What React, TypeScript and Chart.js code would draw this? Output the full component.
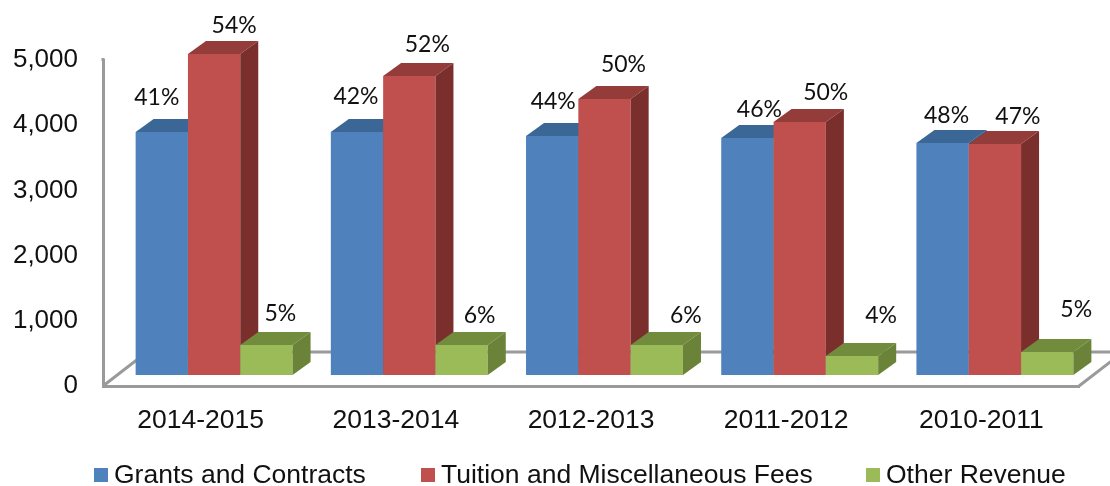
import React, { useEffect, useRef } from "react";
import { Chart, registerables } from "chart.js";

Chart.register(...registerables);

const categories = ["2014-2015", "2013-2014", "2012-2013", "2011-2012", "2010-2011"];
const grants = [3727, 3727, 3665, 3635, 3559];
const tuition = [4923, 4586, 4233, 3881, 3543];
const other = [460, 460, 460, 292, 353];
const grantsShare = ["41%", "42%", "44%", "46%", "48%"];
const tuitionShare = ["54%", "52%", "50%", "50%", "47%"];
const otherShare = ["5%", "6%", "6%", "4%", "5%"];

// label nudges relative to the top centre of each bar's front face
const grantsNudge = [[-5, -34], [-1, -35], [1, -34], [12, -28], [4, -27]];
const tuitionNudge = [[20, -28], [18, -31], [19, -34], [26, -29], [23, -27]];
const otherNudge = [[14, -31], [18, -29], [29, -29], [29, -40], [29, -42]];

const SANS = '"Liberation Sans", Arial, sans-serif';
const AXIS = "#9a9a9a";
const AXIS_TOP = 58;
const PLANE_DX = 13.5;
const PLANE_DY = -11;
const DEPTH_DX = 18;
const DEPTH_DY = -13;

const seriesStyle = [
  { front: "#4F81BD", top: "#3B6796", side: "#2F5380" },
  { front: "#C0504D", top: "#943C3A", side: "#7A2F2D" },
  { front: "#9BBB59", top: "#728C3E", side: "#6B8339" },
];
const shares = [grantsShare, tuitionShare, otherShare];
const nudges = [grantsNudge, tuitionNudge, otherNudge];
const legendStarts = [94, 421, 866];

const poly = (ctx: CanvasRenderingContext2D, pts: number[][], fill: string) => {
  ctx.beginPath();
  pts.forEach(([x, y], i) => (i ? ctx.lineTo(x, y) : ctx.moveTo(x, y)));
  ctx.closePath();
  ctx.fillStyle = fill;
  ctx.fill();
};

const solidBars = {
  id: "solidBars",
  beforeDatasetsDraw(chart: any) {
    const { ctx, chartArea: a, width } = chart;
    ctx.save();
    ctx.strokeStyle = AXIS;
    ctx.lineWidth = 3;
    const backY = 352;
    const floorDx = 44;
    ctx.beginPath();
    ctx.moveTo(a.left, a.bottom);
    ctx.lineTo(a.left + floorDx, backY);
    ctx.lineTo(width, backY);
    ctx.moveTo(a.right, a.bottom);
    ctx.lineTo(a.right + floorDx, backY);
    ctx.moveTo(a.left, a.top + 1);
    ctx.lineTo(a.left, AXIS_TOP);
    ctx.stroke();
    ctx.restore();
  },
  // the library paints datasets last-to-first; the solids need first-to-last
  beforeDatasetDraw() {
    return false;
  },
  afterDatasetsDraw(chart: any) {
    const { ctx } = chart;
    ctx.save();
    ctx.translate(PLANE_DX, PLANE_DY);
    chart.data.datasets.forEach((_: any, i: number) => {
      const style = seriesStyle[i];
      chart.getDatasetMeta(i).data.forEach((el: any) => {
        el.draw(ctx);
        const { x, y, width, base } = el.getProps(["x", "y", "width", "base"], true);
        const l = x - width / 2;
        const r = x + width / 2;
        poly(ctx, [[l, y], [r, y], [r + DEPTH_DX, y + DEPTH_DY], [l + DEPTH_DX, y + DEPTH_DY]], style.top);
        poly(ctx, [[r, y], [r + DEPTH_DX, y + DEPTH_DY], [r + DEPTH_DX, base + DEPTH_DY], [r, base]], style.side);
      });
    });
    ctx.restore();
  },
  afterDraw(chart: any) {
    const { ctx } = chart;
    ctx.save();
    ctx.textBaseline = "middle";
    ctx.textAlign = "center";
    ctx.fillStyle = "#111111";
    ctx.font = "23px Lato, sans-serif";
    chart.data.datasets.forEach((_: any, i: number) => {
      chart.getDatasetMeta(i).data.forEach((el: any, j: number) => {
        const [dx, dy] = nudges[i][j];
        ctx.fillText(shares[i][j], el.x + PLANE_DX + dx, el.y + PLANE_DY + dy);
      });
    });
    ctx.textAlign = "left";
    ctx.font = `26.5px ${SANS}`;
    chart.data.datasets.forEach((ds: any, i: number) => {
      const x = legendStarts[i];
      ctx.fillStyle = seriesStyle[i].front;
      ctx.fillRect(x, 468, 14, 14);
      ctx.fillStyle = "#111111";
      ctx.fillText(ds.label, x + 20, 476);
    });
    ctx.restore();
  },
};

export default function App() {
  const ref = useRef<HTMLCanvasElement | null>(null);
  useEffect(() => {
    const series = [
      { label: "Grants and Contracts", data: grants },
      { label: "Tuition and Miscellaneous Fees", data: tuition },
      { label: "Other Revenue", data: other },
    ];
    const chart = new Chart(ref.current as HTMLCanvasElement, {
      type: "bar",
      data: {
        labels: categories,
        datasets: series.map((s, i) => ({
          ...s,
          backgroundColor: seriesStyle[i].front,
          barPercentage: 1,
          categoryPercentage: 0.804,
        })),
      },
      options: {
        responsive: false,
        animation: false,
        layout: { padding: { top: 60, right: 31, left: 0, bottom: 0 } },
        plugins: { legend: { display: false }, tooltip: { enabled: false } },
        scales: {
          x: {
            grid: { display: false, drawTicks: false },
            border: { display: true, color: AXIS, width: 3 },
            ticks: { color: "#111111", font: { family: SANS, size: 26.5 }, padding: 19, maxRotation: 0 },
            afterFit: (s: any) => { s.height = 100; },
          },
          y: {
            min: 0,
            max: 5000,
            grid: { display: false, drawTicks: false },
            border: { display: true, color: AXIS, width: 3 },
            ticks: {
              stepSize: 1000,
              color: "#111111",
              font: { family: SANS, size: 26 },
              padding: 25,
              callback: (v: any) => Number(v).toLocaleString("en-US"),
            },
            afterFit: (s: any) => { s.width = 103; },
          },
        },
      },
      plugins: [solidBars],
    });
    return () => chart.destroy();
  }, []);
  return (
    <div style={{ position: "absolute", left: 0, top: 0, width: 1110, height: 486, background: "#fff" }}>
      <canvas ref={ref} width={1110} height={486} style={{ display: "block" }} />
    </div>
  );
}
